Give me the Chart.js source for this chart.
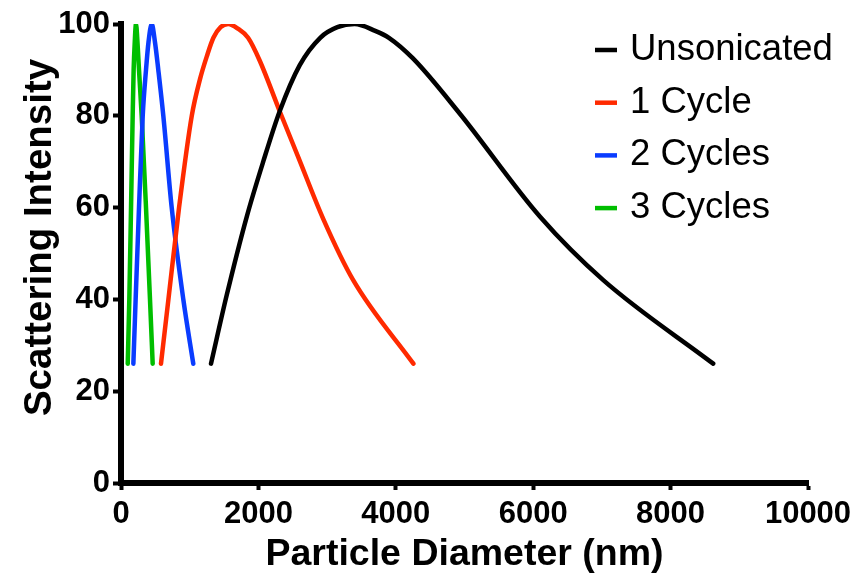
<!DOCTYPE html>
<html>
<head>
<meta charset="utf-8">
<script src="https://cdn.jsdelivr.net/npm/chart.js@4.4.1/dist/chart.umd.min.js"></script>
<style>
  html, body { margin: 0; padding: 0; background: #fff; }
  #wrap { width: 860px; height: 579px; }
</style>
</head>
<body>
<div id="wrap"><canvas id="chart" width="860" height="579"></canvas></div>
<script>
// Dados (diâmetro em nm, intensidade relativa)
const unsonicatedX = [1310, 1540, 1830, 2070, 2310, 2600, 2900, 3150, 3400, 3700, 3900, 4250, 4930, 6100, 7020, 8620]
const unsonicatedY = [26, 41, 58, 70, 81, 91, 97, 99.3, 100, 98.5, 97, 92.5, 80.5, 58, 44.2, 26]

const oneCycleX = [582, 690, 845, 1030, 1150, 1250, 1345, 1450, 1560, 1700, 1850, 2020, 2310, 2580, 2945, 3380, 4256]
const oneCycleY = [26, 40, 60, 80, 88, 93, 97, 99.3, 100, 99, 97, 92, 81, 71, 57.5, 44.2, 26]

const twoCyclesX = [180, 213, 262, 316, 364, 400, 447, 495, 543, 616, 738, 907, 1052]
const twoCyclesY = [26, 40, 60, 80, 90, 96, 100, 96, 90, 80, 60, 40, 26]

const threeCyclesX = [98, 121, 146, 170, 184, 200, 218, 240, 262, 301, 364, 422, 461]
const threeCyclesY = [26, 40, 60, 80, 90, 96, 100, 96, 90, 80, 60, 40, 26]

const seriesLabels = ['Unsonicated', '1 Cycle', '2 Cycles', '3 Cycles']
const seriesColors = ['#000000', '#FF2A00', '#0A3CFF', '#00BE00']

const xTicks = [0, 2000, 4000, 6000, 8000, 10000]
const yTicks = [0, 20, 40, 60, 80, 100]

const FONT = "'Liberation Sans', Arial, sans-serif"

const toPoints = (xs, ys) => xs.map((x, i) => ({ x: x, y: ys[i] }))

const seriesData = [
  toPoints(unsonicatedX, unsonicatedY),
  toPoints(oneCycleX, oneCycleY),
  toPoints(twoCyclesX, twoCyclesY),
  toPoints(threeCyclesX, threeCyclesY)
]

// Legenda desenhada dentro da área do gráfico, canto superior direito
const insideLegend = {
  id: 'insideLegend',
  afterDraw(chart) {
    const ctx = chart.ctx
    const x0 = 595
    const y0 = 50
    const rowGap = 52.7
    ctx.save()
    ctx.font = '36.5px ' + FONT
    ctx.textBaseline = 'middle'
    ctx.textAlign = 'left'
    chart.data.datasets.forEach((ds, i) => {
      const y = y0 + i * rowGap
      ctx.strokeStyle = ds.borderColor
      ctx.lineWidth = 4.5
      ctx.lineCap = 'butt'
      ctx.beginPath()
      ctx.moveTo(x0, y)
      ctx.lineTo(x0 + 22, y)
      ctx.stroke()
      ctx.fillStyle = '#000'
      ctx.fillText(ds.label, x0 + 35, y)
    })
    ctx.restore()
  }
}

const datasets = seriesData.map((pts, i) => ({
  label: seriesLabels[i],
  data: pts,
  borderColor: seriesColors[i],
  backgroundColor: seriesColors[i],
  borderWidth: 4.5,
  pointRadius: 0,
  showLine: true,
  fill: false,
  cubicInterpolationMode: 'monotone',
  borderCapStyle: 'round',
  borderJoinStyle: 'round'
}))

new Chart(document.getElementById('chart').getContext('2d'), {
  type: 'scatter',
  data: { datasets: datasets },
  options: {
    responsive: false,
    animation: false,
    layout: { padding: { top: 24, right: 52, bottom: 0, left: 0 } },
    plugins: {
      legend: { display: false },
      tooltip: { enabled: false }
    },
    scales: {
      x: {
        type: 'linear',
        min: 0,
        max: 10000,
        afterFit: (scale) => { scale.height = 96 },
        afterBuildTicks: (scale) => { scale.ticks = xTicks.map(v => ({ value: v })) },
        border: { display: true, color: '#000', width: 6 },
        grid: { drawOnChartArea: false, drawTicks: true, tickLength: 7, tickWidth: 4, tickColor: '#000' },
        ticks: {
          color: '#000',
          padding: 6,
          maxRotation: 0,
          font: { family: FONT, size: 31, weight: 'bold' },
          callback: (value) => String(value)
        },
        title: {
          display: true,
          text: 'Particle Diameter (nm)',
          color: '#000',
          padding: { top: 0, bottom: 2 },
          font: { family: FONT, size: 37.5, weight: 'bold' }
        }
      },
      y: {
        type: 'linear',
        min: 0,
        max: 100,
        afterFit: (scale) => { scale.width = 121 },
        afterBuildTicks: (scale) => { scale.ticks = yTicks.map(v => ({ value: v })) },
        border: { display: true, color: '#000', width: 6 },
        grid: { drawOnChartArea: false, drawTicks: true, tickLength: 8, tickWidth: 4, tickColor: '#000' },
        ticks: {
          color: '#000',
          padding: 3,
          font: { family: FONT, size: 31, weight: 'bold' },
          callback: (value) => String(value)
        },
        title: {
          display: true,
          // espaços iniciais deslocam o texto para cima, como no original
          text: '   Scattering Intensity',
          color: '#000',
          padding: { top: 17, bottom: 0 },
          font: { family: FONT, size: 38.5, weight: 'bold' }
        }
      }
    }
  },
  plugins: [insideLegend]
})
</script>
</body>
</html>
